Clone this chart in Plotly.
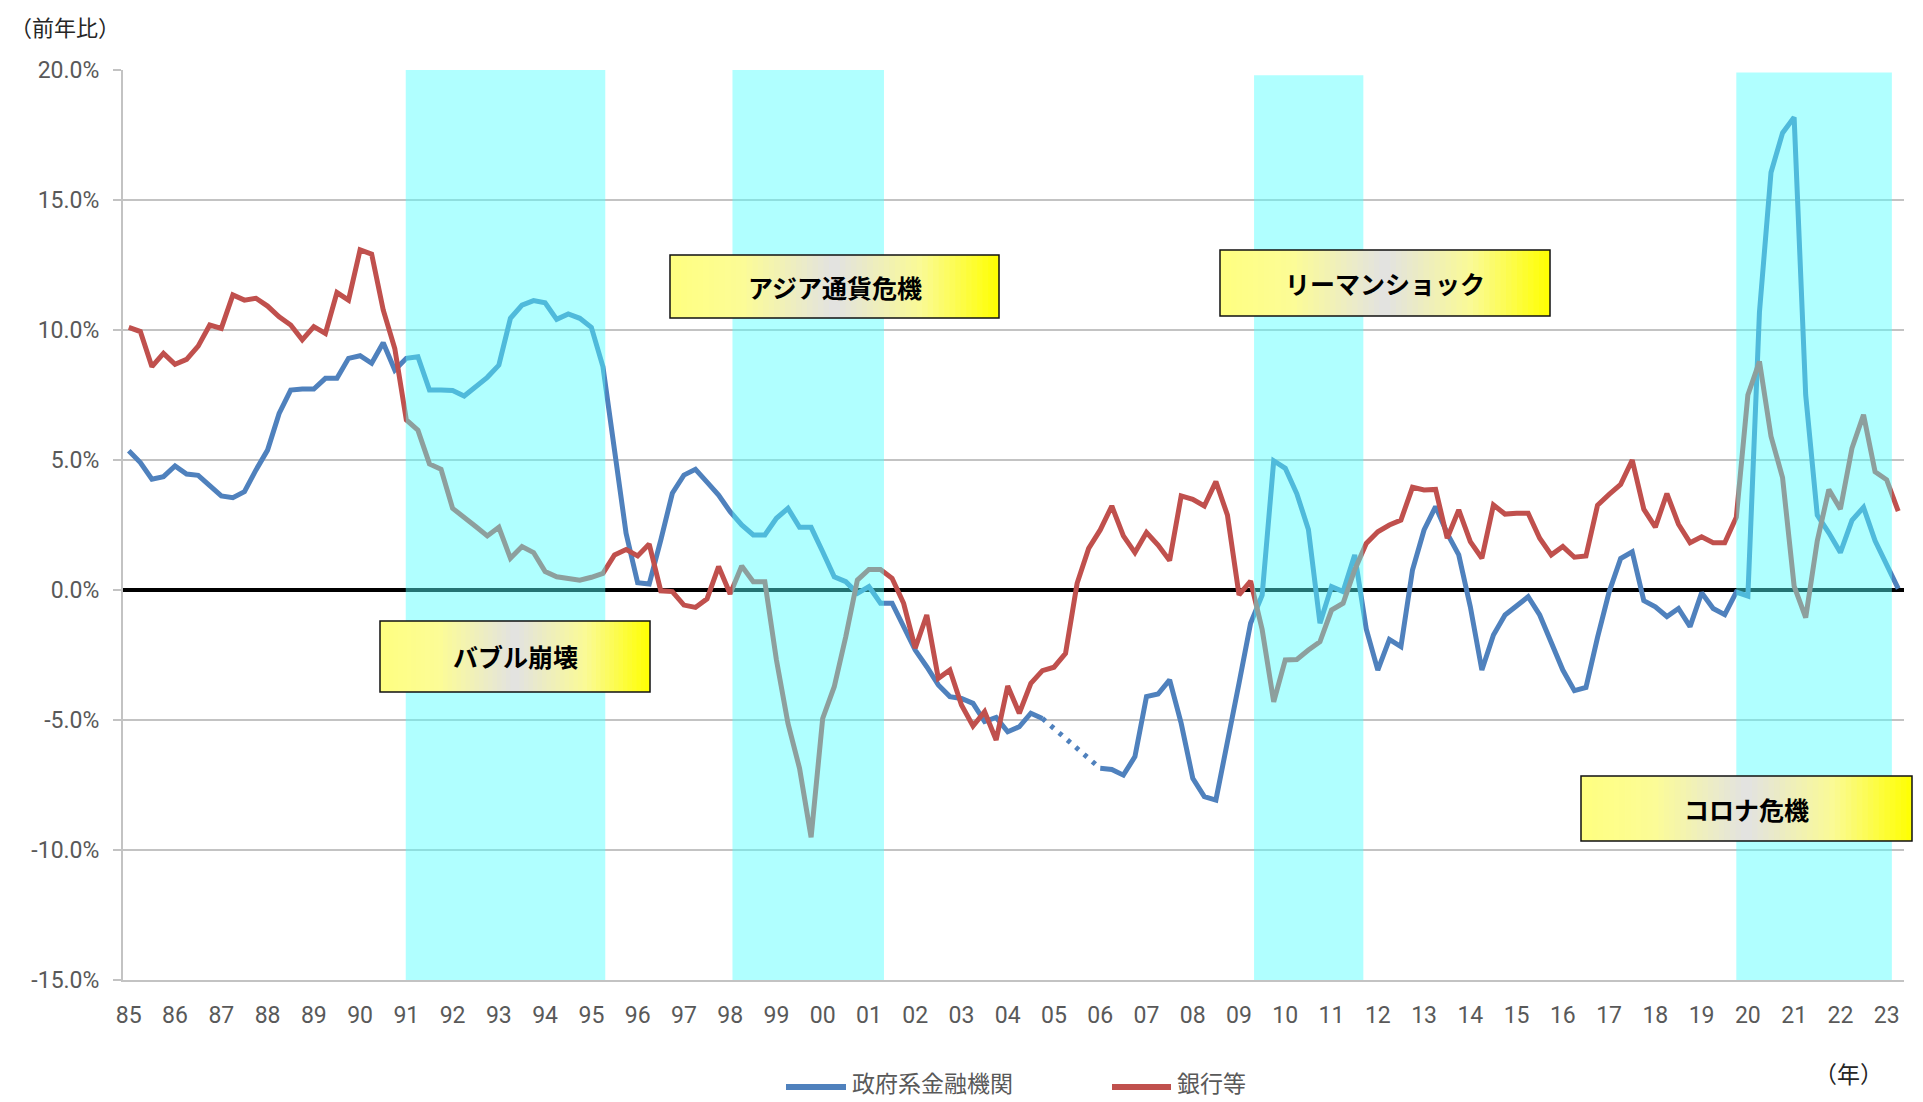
import plotly.graph_objects as go

# ---------------- data (quarterly, 1985Q1 .. 2023Q2) ----------------
years = ["85", "86", "87", "88", "89", "90", "91", "92", "93", "94", "95", "96", "97",
         "98", "99", "00", "01", "02", "03", "04", "05", "06", "07", "08", "09", "10",
         "11", "12", "13", "14", "15", "16", "17", "18", "19", "20", "21", "22", "23"]

y_ticks = [-15, -10, -5, 0, 5, 10, 15, 20]
y_tick_text = ["-15.0%", "-10.0%", "-5.0%", "0.0%", "5.0%", "10.0%", "15.0%", "20.0%"]

gov = [5.36, 4.90, 4.26, 4.36, 4.77, 4.46, 4.41, 4.00, 3.62, 3.55, 3.78, 4.62,
       5.38, 6.79, 7.69, 7.73, 7.73, 8.14, 8.14, 8.91, 9.01, 8.72, 9.51, 8.46,
       8.91, 8.97, 7.69, 7.69, 7.67, 7.46, 7.82, 8.18, 8.65, 10.45, 10.96, 11.13,
       11.05, 10.41, 10.62, 10.45, 10.10, 8.59, 5.38, 2.18, 0.28, 0.23, 1.92, 3.72,
       4.42, 4.64, 4.15, 3.65, 3.01, 2.50, 2.12, 2.12, 2.76, 3.14, 2.41, 2.41,
       1.47, 0.51, 0.32, -0.13, 0.13, -0.51, -0.51, -1.41, -2.31, -2.95, -3.65, -4.10,
       -4.17, -4.36, -5.06, -4.90, -5.45, -5.26, -4.74, -4.94, None, None, None, None,
       -6.86, -6.90, -7.12, -6.41, -4.10, -4.00, -3.46, -5.13, -7.24, -7.95, -8.08, -5.71,
       -3.59, -1.28, -0.20, 4.97, 4.68, 3.70, 2.33, -1.28, 0.13, -0.06, 1.35, -1.50,
       -3.08, -1.90, -2.18, 0.77, 2.31, 3.21, 2.18, 1.35, -0.64, -3.08, -1.73, -0.96,
       -0.58, -0.26, -0.96, -1.99, -3.08, -3.87, -3.75, -1.82, -0.08, 1.21, 1.47, -0.41,
       -0.65, -1.02, -0.71, -1.41, -0.11, -0.71, -0.95, -0.08, -0.23, 10.68, 16.06, 17.58,
       18.18, 7.50, 2.88, 2.20, 1.44, 2.68, 3.18, 1.89, 0.98, 0.05]

bank = [10.10, 9.94, 8.59, 9.10, 8.68, 8.87, 9.38, 10.19, 10.06, 11.35, 11.15, 11.22,
        10.92, 10.51, 10.19, 9.62, 10.13, 9.87, 11.44, 11.15, 13.08, 12.92, 10.77, 9.29,
        6.54, 6.15, 4.85, 4.64, 3.14, 2.76, 2.44, 2.08, 2.41, 1.22, 1.67, 1.44,
        0.71, 0.51, 0.45, 0.38, 0.49, 0.64, 1.35, 1.56, 1.31, 1.77, -0.03, -0.06,
        -0.58, -0.67, -0.34, 0.90, -0.15, 0.92, 0.32, 0.32, -2.69, -5.13, -6.86, -9.51,
        -4.94, -3.72, -1.79, 0.38, 0.79, 0.79, 0.45, -0.51, -2.24, -0.96, -3.40, -3.08,
        -4.42, -5.23, -4.68, -5.77, -3.69, -4.74, -3.59, -3.10, -2.97, -2.44, 0.26, 1.60,
        2.31, 3.23, 2.08, 1.44, 2.21, 1.73, 1.13, 3.62, 3.49, 3.23, 4.17, 2.88,
        -0.19, 0.34, -1.52, -4.30, -2.69, -2.67, -2.31, -1.99, -0.77, -0.51, 0.77, 1.79,
        2.24, 2.50, 2.69, 3.95, 3.85, 3.87, 1.99, 3.08, 1.86, 1.22, 3.27, 2.92,
        2.95, 2.95, 1.99, 1.35, 1.67, 1.26, 1.31, 3.26, 3.68, 4.06, 5.00, 3.11,
        2.42, 3.71, 2.53, 1.82, 2.05, 1.82, 1.82, 2.80, 7.50, 8.79, 5.91, 4.32,
        0.15, -1.06, 1.89, 3.86, 3.11, 5.45, 6.74, 4.55, 4.24, 3.03]

crisis_names = ["バブル崩壊", "アジア通貨危機", "リーマンショック", "コロナ危機"]
crisis_start = [23.95, 52.2, 97.3, 139.0]      # quarter index
crisis_end = [41.2, 65.3, 106.75, 152.45]

series_names = ["政府系金融機関", "銀行等"]

# ---------------- styling ----------------
BLUE = "#4F81BD"
RED = "#C0504D"
TICK_COL = "#595959"
GRID = "#C3C3C3"
JP = "Noto Sans CJK JP"
NUM = "Roboto"

OFF = 8                      # page body margin
W, H = 1923 - OFF, 1102 - OFF
L, R, T, B = 123, 1904, 70, 980   # plot area in page px

def px(x):
    return (x - L) / (R - L)

def py(y):
    return (B - y) / (B - T)

n = len(gov)
xs = list(range(n))

fig = go.Figure()

gap_a, gap_b = 79, 84
fig.add_trace(go.Scatter(x=xs, y=gov, mode="lines", name=series_names[0],
                         line=dict(color=BLUE, width=5), connectgaps=False,
                         showlegend=False))
fig.add_trace(go.Scatter(x=[xs[gap_a], xs[gap_b]], y=[gov[gap_a], gov[gap_b]],
                         mode="lines", line=dict(color=BLUE, width=5, dash="4px,7px"),
                         showlegend=False, hoverinfo="skip"))
fig.add_trace(go.Scatter(x=xs, y=bank, mode="lines", name=series_names[1],
                         line=dict(color=RED, width=5), showlegend=False))

shapes = []
shade_tops = [20, 20, 19.8, 19.9]
shade_bottoms = [-15.05, -15.05, -15.15, -15.05]
for s, e, t_, b_ in zip(crisis_start, crisis_end, shade_tops, shade_bottoms):
    shapes.append(dict(type="rect", xref="x", yref="y", x0=s, x1=e, y0=b_, y1=t_,
                       fillcolor="rgba(80,255,255,0.45)", line=dict(width=0),
                       layer="above"))

boxes = [(380, 621, 650, 692), (670, 255, 999, 318), (1220, 250, 1550, 316),
         (1581, 776, 1912, 841)]
stops = [(0.0, (255, 255, 128)), (0.22, (252, 252, 150)), (0.5, (226, 226, 226)),
         (0.76, (250, 250, 150)), (1.0, (255, 255, 0))]

def grad(t):
    for (t0, c0), (t1, c1) in zip(stops[:-1], stops[1:]):
        if t0 <= t <= t1:
            f = (t - t0) / (t1 - t0)
            return "rgb(%d,%d,%d)" % tuple(round(a + (b - a) * f) for a, b in zip(c0, c1))
    return "rgb(255,255,0)"

annotations = []
NS = 60
for (x0, y0, x1, y1), name in zip(boxes, crisis_names):
    wpx = (x1 - x0) / NS
    for k in range(NS):
        a = x0 + k * wpx
        b = min(x1, a + wpx + 0.8)
        shapes.append(dict(type="rect", xref="paper", yref="paper",
                           x0=px(a), x1=px(b), y0=py(y1), y1=py(y0),
                           fillcolor=grad((k + 0.5) / NS), line=dict(width=0),
                           layer="above"))
    shapes.append(dict(type="rect", xref="paper", yref="paper",
                       x0=px(x0), x1=px(x1), y0=py(y1), y1=py(y0),
                       fillcolor="rgba(0,0,0,0)", line=dict(color="#111111", width=1.5),
                       layer="above"))
    annotations.append(dict(xref="paper", yref="paper", x=px((x0 + x1) / 2),
                            y=py((y0 + y1) / 2), text="<b>%s</b>" % name, showarrow=False,
                            font=dict(family=JP, size=25, color="#000000"),
                            xanchor="center", yanchor="middle"))

leg_y = 1087
for (lx0, lx1, tx), name, col in zip([(786, 846, 850), (1112, 1171, 1175)],
                                      series_names, [BLUE, RED]):
    shapes.append(dict(type="line", xref="paper", yref="paper", x0=px(lx0), x1=px(lx1),
                       y0=py(leg_y), y1=py(leg_y), line=dict(color=col, width=6)))
    annotations.append(dict(xref="paper", yref="paper", x=px(tx), y=py(1101),
                            text=name, showarrow=False, xanchor="left", yanchor="bottom",
                            font=dict(family=JP, size=23, color=TICK_COL)))

annotations.append(dict(xref="paper", yref="paper", x=px(8), y=py(8), text="（前年比）",
                        showarrow=False, xanchor="left", yanchor="top",
                        font=dict(family=JP, size=22, color="#262626")))
annotations.append(dict(xref="paper", yref="paper", x=px(1848), y=py(1073), text="（年）",
                        showarrow=False, xanchor="center", yanchor="middle",
                        font=dict(family=JP, size=23, color="#262626")))

fig.update_layout(
    width=W, height=H,
    margin=dict(l=L - OFF, r=W - (R - OFF), t=T - OFF, b=H - (B - OFF), pad=0),
    paper_bgcolor="white", plot_bgcolor="white",
    shapes=shapes, annotations=annotations, showlegend=False,
    xaxis=dict(range=[-0.5, n - 0.5], tickmode="array",
               tickvals=list(range(0, n, 4)), ticktext=years,
               showgrid=False, zeroline=False, showline=True, linecolor=GRID,
               linewidth=2, ticks="", ticklabelstandoff=13,
               tickfont=dict(family=NUM, size=23, color=TICK_COL)),
    yaxis=dict(range=[-15, 20], tickmode="array", tickvals=y_ticks, ticktext=y_tick_text,
               showgrid=True, gridcolor=GRID, gridwidth=2,
               zeroline=True, zerolinecolor="#000000", zerolinewidth=4,
               showline=True, linecolor=GRID, linewidth=2,
               ticks="outside", ticklen=8, tickwidth=2, tickcolor=GRID,
               ticklabelstandoff=9,
               tickfont=dict(family=NUM, size=23, color=TICK_COL)),
)

fig.write_html("out.html")
